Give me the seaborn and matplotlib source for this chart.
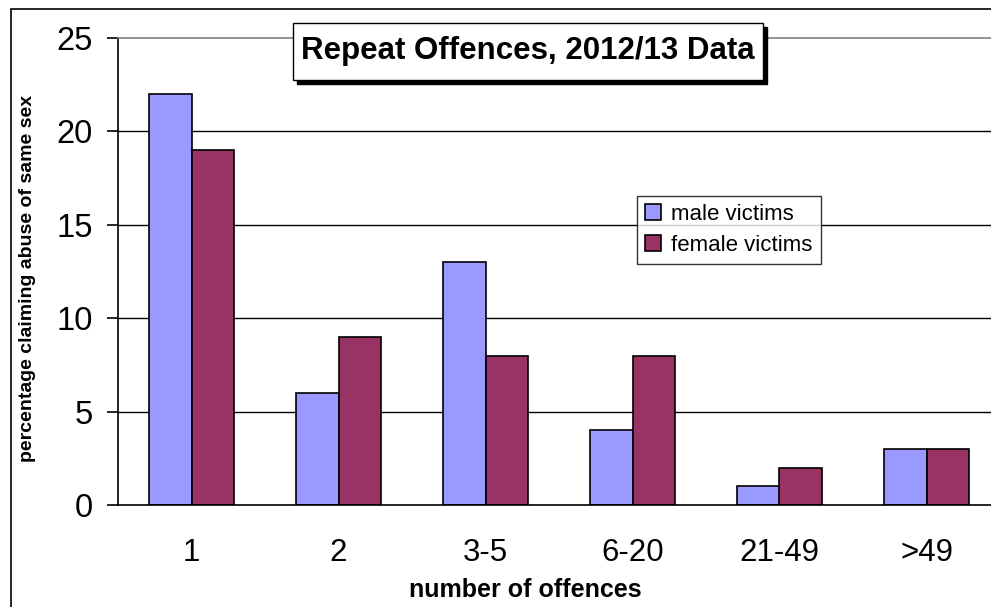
import matplotlib
matplotlib.use("Agg")
import matplotlib.pyplot as plt
import seaborn as sns
import pandas as pd
from matplotlib.patches import Rectangle

categories = ["1", "2", "3-5", "6-20", "21-49", ">49"]
male_victims = [22, 6, 13, 4, 1, 3]
female_victims = [19, 9, 8, 8, 2, 3]
series_names = ["male victims", "female victims"]
colors = ["#9999FF", "#993366"]

df = pd.DataFrame({
    "cat": categories * 2,
    "val": male_victims + female_victims,
    "series": [series_names[0]] * len(categories) + [series_names[1]] * len(categories),
})

sns.set_theme(style="white")
plt.rcParams["font.family"] = ["Liberation Sans", "DejaVu Sans"]
plt.rcParams["text.color"] = "black"
plt.rcParams["axes.labelcolor"] = "black"
plt.rcParams["xtick.color"] = "black"
plt.rcParams["ytick.color"] = "black"

W, H = 991, 607
fig = plt.figure(figsize=(W / 100, H / 100), dpi=100)
ax = fig.add_axes([118 / W, 1 - 505 / H, 882 / W, (505 - 38) / H])

sns.barplot(data=df, x="cat", y="val", hue="series", order=categories,
            hue_order=series_names, palette=colors, width=0.58,
            edgecolor="black", linewidth=1.2, saturation=1, ax=ax, legend=True)

ax.set_xlim(-0.5, 5.5)
ax.set_ylim(0, 25)
ax.set_yticks([0, 5, 10, 15, 20, 25])
ax.set_yticklabels(["0", "5", "10", "15", "20", "25"], fontsize=23.5, color="black")
for y in [5, 10, 15, 20]:
    ax.axhline(y, color="black", lw=1.0, zorder=0)
ax.set_axisbelow(True)

ax.set_xticks(range(len(categories)))
ax.set_xticklabels(categories, fontsize=22.5, color="black")
ax.tick_params(axis="x", which="major", length=0, pad=24)
ax.set_xticks([i - 0.5 for i in range(len(categories) + 1)], minor=True)
ax.tick_params(axis="x", which="minor", length=8, width=1.2, color="black", direction="out")
ax.tick_params(axis="y", which="major", length=8, width=1.2, color="black", direction="out", pad=10, left=True)

for s in ["left", "bottom"]:
    ax.spines[s].set_color("black")
    ax.spines[s].set_linewidth(1.2)
ax.spines["top"].set_color("#808080")
ax.spines["top"].set_linewidth(1.2)
ax.spines["right"].set_visible(False)

ax.set_xlabel("number of offences", fontsize=18, fontweight="bold", color="black")
ax.xaxis.set_label_coords((525 - 118) / 882, -(590 - 505) / 467)
ax.set_ylabel("percentage claiming abuse of same sex", fontsize=14, fontweight="bold", color="black")
ax.yaxis.set_label_coords(-(118 - 28) / 882, 1 - (278 - 38) / 467)
ax.yaxis.label.set_va("center")
ax.xaxis.label.set_va("center")

leg = ax.legend(loc="upper left", bbox_to_anchor=((637 - 118) / 882, 1 - (196 - 38) / 467),
                frameon=True, fancybox=False, fontsize=16, handlelength=0.75, handleheight=0.75,
                handletextpad=0.45, borderpad=0.35, labelspacing=0.45, borderaxespad=0)
leg.get_frame().set_edgecolor("black")
leg.get_frame().set_linewidth(1.0)
for t in leg.get_texts():
    t.set_color("black")

# title box with shadow
tx0, tx1, ty0, ty1 = 293, 763, 23, 80
fig.patches.append(Rectangle((tx0 / W + 4 / W, 1 - ty1 / H - 4 / H), (tx1 - tx0) / W, (ty1 - ty0) / H,
                             transform=fig.transFigure, facecolor="black", edgecolor="black", zorder=5))
fig.patches.append(Rectangle((tx0 / W, 1 - ty1 / H), (tx1 - tx0) / W, (ty1 - ty0) / H,
                             transform=fig.transFigure, facecolor="white", edgecolor="black", lw=1.0, zorder=6))
fig.text((tx0 + tx1) / 2 / W, 1 - (ty0 + ty1) / 2 / H, "Repeat Offences, 2012/13 Data",
         ha="center", va="center", fontsize=22.5, fontweight="bold", color="black", zorder=7)

# figure border
fig.patches.append(Rectangle((11 / W, -0.1), 1.2, 1 - 9 / H + 0.1, transform=fig.transFigure,
                             facecolor="none", edgecolor="black", lw=1.2, zorder=10))

fig.savefig("out.png", dpi=100)
